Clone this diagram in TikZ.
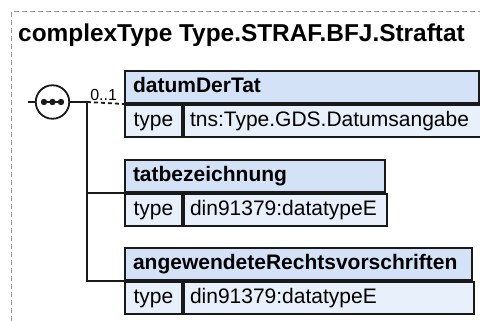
\documentclass[tikz,border=0pt]{standalone}
\usepackage{fontspec}
\setmainfont{Liberation Sans}
\usetikzlibrary{positioning}
\definecolor{HeadBG}{RGB}{212,226,248}
\definecolor{TypeBG}{RGB}{232,240,252}
\definecolor{BoxRule}{RGB}{25,25,25}
\definecolor{FrameGray}{RGB}{150,150,150}

\begin{document}
\begin{tikzpicture}[
  x=1pt, y=-1pt,
  every node/.style={font=\fontsize{21}{25}\selectfont},
  cell/.style={draw=BoxRule, line width=2pt, minimum height=32pt, inner ysep=0pt,
               text height=15pt, text depth=4.5pt, anchor=north west},
  head/.style={cell, fill=HeadBG, inner xsep=8pt, align=left,
               font=\fontsize{21}{25}\selectfont\bfseries},
  typekey/.style={cell, fill=TypeBG, minimum width=57pt},
  typeval/.style={cell, fill=TypeBG, inner xsep=6pt, align=left},
  link/.style={draw=BoxRule, line width=1.8pt},
  dashframe/.style={draw=FrameGray, line width=1pt, dash pattern=on 5pt off 3pt}
]
\useasboundingbox (0,0) rectangle (480,321);
\draw[dashframe] (11,321) -- (11,12) -- (480,12);
\node[anchor=base west, inner sep=0pt, font=\fontsize{24.4}{28}\selectfont\bfseries] (title) at (18,42)
  {complexType Type.STRAF.BFJ.Straftat};

% elements
\node[head, text width=338pt] (dtHead) at (124,70) {datumDerTat};
\node[typekey] (dtKey) at (dtHead.south west) {type};
\node[typeval, text width=285pt] (dtVal) at (dtKey.north east) {tns:Type.GDS.Datumsangabe};

\node[head, text width=244pt, below=21pt of dtKey.south west, anchor=north west] (tbHead) {tatbezeichnung};
\node[typekey] (tbKey) at (tbHead.south west) {type};
\node[typeval, text width=191pt] (tbVal) at (tbKey.north east) {din91379:datatypeE};

\node[head, text width=331pt, below=20pt of tbKey.south west, anchor=north west] (arHead) {angewendeteRechtsvorschriften};
\node[typekey] (arKey) at (arHead.south west) {type};
\node[typeval, text width=278pt] (arVal) at (arKey.north east) {din91379:datatypeE};

% sequence compositor
\node[draw=BoxRule, line width=1.8pt, circle, minimum size=33.5pt, inner sep=0pt, fill=white] (seq) at (52.5,102) {};
\draw[link] ([xshift=-8.5pt]seq.center) -- ([xshift=8.5pt]seq.center);
\foreach \dx in {-8.5,0,8.5}
  \fill[BoxRule] ([xshift=\dx pt]seq.center) circle (3.2pt);
\coordinate (inStub) at (28,102);
\coordinate (trunk) at (87,102);

\draw[link] (inStub) -- (seq);
\draw[link] (seq) -- (trunk);
\draw[link] (trunk) |- (arHead.south west);
\draw[link] (trunk |- tbHead.south west) -- (tbHead.south west);
\draw[link, dash pattern=on 4pt off 3pt] (trunk) -- (dtHead.south west)
  node[pos=0.45, above, inner sep=1.5pt, font=\fontsize{16}{18}\selectfont] (occ) {0..1};
\end{tikzpicture}
\end{document}
